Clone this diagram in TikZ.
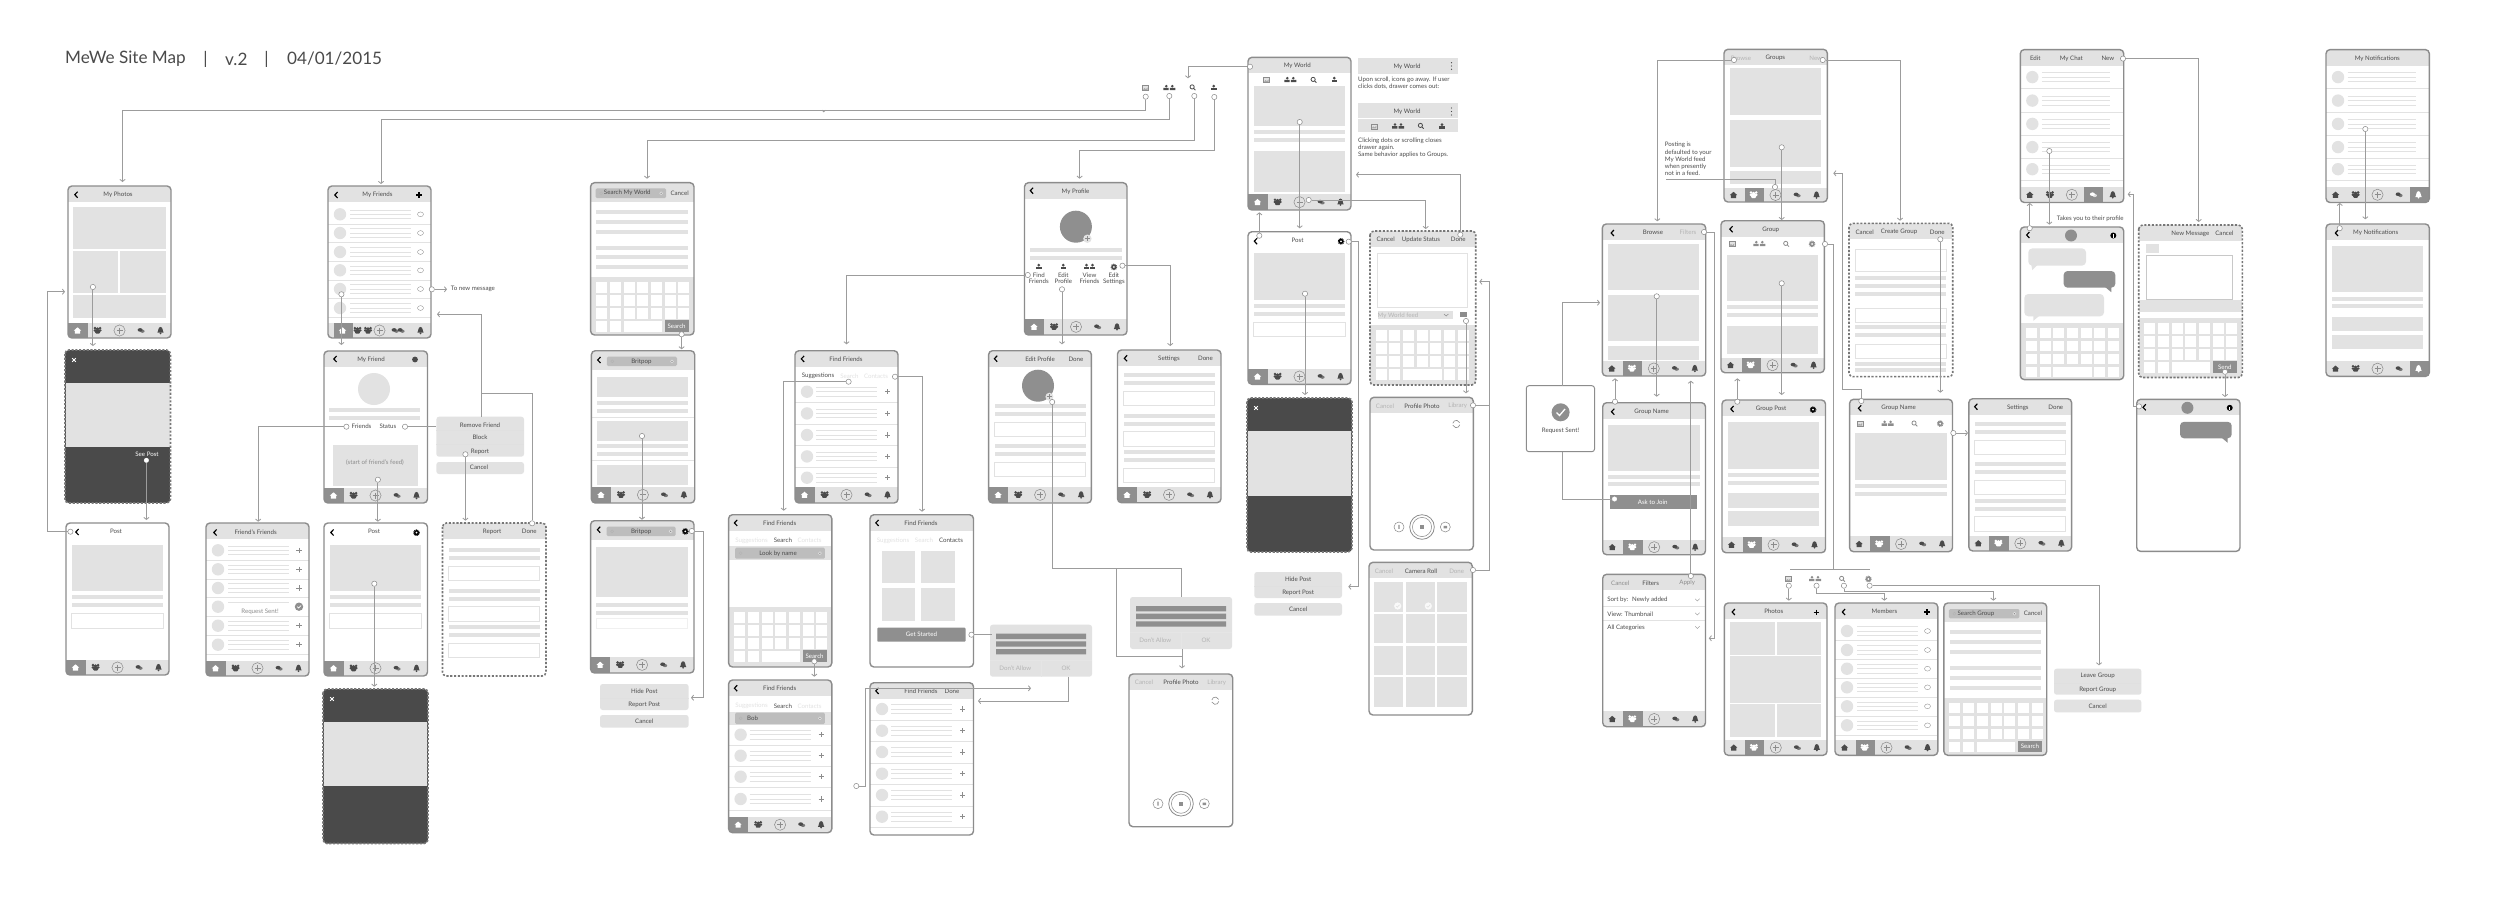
\documentclass[tikz,border=0pt]{standalone}
\usepackage{fontspec}
\setmainfont{Lato}
\usetikzlibrary{arrows.meta}
\definecolor{bgg}{HTML}{E2E2E2}
\definecolor{frm}{HTML}{8C8C8C}
\definecolor{midg}{HTML}{8F8F8F}
\definecolor{drk}{HTML}{4A4A4A}
\definecolor{tdk}{HTML}{4C4C4C}
\definecolor{tlt}{HTML}{B4B4B4}
\definecolor{srch}{HTML}{BDBDBD}
\definecolor{lnk}{HTML}{9C9C9C}
\newcount\txtcnt
\tikzset{
  txt/.style={inner sep=0pt,font=\fontsize{7}{8}\selectfont},
  ttlfont/.style={inner sep=0pt,text=drk,font=\fontsize{19.5}{22}\selectfont},
  conn/.style={draw=lnk,line width=.95pt,>={Straight Barb[length=2.4pt,width=6pt]}},
  hot/.style={circle,draw=frm,fill=white,line width=.6pt,inner sep=0pt,minimum size=.21cm},
  hotw/.style={circle,draw=white,fill=white,inner sep=0pt,minimum size=.18cm},
  brd/.style={draw=frm,line width=1.6pt},
  dbrd/.style={draw=frm!85!black,line width=1.8pt,dash pattern=on 2.4pt off 1.9pt},
  inp/.style={draw=bgg,line width=.8pt,fill=white},
}
\newcommand\tx[4][tdk]{\global\advance\txtcnt by 1\relax\node[txt,text=#1] (t\the\txtcnt) at (#2,#3) {#4};}
\newcommand\txl[4][tdk]{\global\advance\txtcnt by 1\relax\node[txt,text=#1,anchor=west] (t\the\txtcnt) at (#2,#3) {#4};}
\newcommand\scrn[6][brd]{\begin{scope}[shift={(#2,#3)}]\def\sW{#4}\def\sH{#5}%
  \fill[white,rounded corners=4.5pt] (0,0) rectangle (#4,#5);
  \begin{scope}\clip[rounded corners=4.5pt] (0,0) rectangle (#4,#5);#6\end{scope}
  \draw[#1,rounded corners=4.5pt] (0,0) rectangle (#4,#5);\end{scope}}
\newcommand\bx[4]{\fill[bgg] (#1,#2) rectangle (#3,#4);}
\newcommand\ib[4]{\draw[inp] (#1,#2) rectangle (#3,#4);}
\newcommand\lbar[3]{\fill[bgg] (#1,#3) rectangle (#2,#3+4);}
\newcommand\topbar{\bx{0}{0}{\sW}{16}}
\newcommand\ttl[2]{\tx{#1}{8.7}{#2}}
\newcommand\ttll[2]{\tx[tlt]{#1}{8.7}{#2}}
\newcommand\ttlm[2]{\tx[frm]{#1}{8.7}{#2}}
\newcommand\chev[2]{\draw[black,line width=1.3pt] (#1+1.6,#2-3) -- (#1-1.2,#2) -- (#1+1.6,#2+3);}
\newcommand\icgear[3][black]{\begin{scope}[shift={(#2,#3)}]\fill[#1] (0,0) circle (2.6);\draw[#1,line width=1pt,dash pattern=on .9pt off .9pt] (0,0) circle (2.9);\fill[white] (0,0) circle (1);\end{scope}}
\newcommand\bplus[2]{\draw[black,line width=1.3pt] (#1-2.8,#2) -- (#1+2.8,#2) (#1,#2-2.8) -- (#1,#2+2.8);}
\newcommand\gplus[2]{\draw[frm,line width=1pt] (#1-2.6,#2) -- (#1+2.6,#2) (#1,#2-2.6) -- (#1,#2+2.6);}
\newcommand\ichome[3]{\fill[#3] (#1-3.6,#2) -- (#1,#2-3.2) -- (#1+3.6,#2) -- (#1+2.6,#2) -- (#1+2.6,#2+3) -- (#1-2.6,#2+3) -- (#1-2.6,#2) -- cycle;}
\newcommand\icpeople[3]{\begin{scope}[shift={(#1,#2)}]\fill[#3] (-2.6,-2.4) circle (1.4) (2.6,-2.4) circle (1.4) (0,-1.6) circle (1.7);\fill[#3,rounded corners=1pt] (-4,-1.2) rectangle (4,1);\fill[#3,rounded corners=1pt] (-2.4,0) rectangle (2.4,3);\end{scope}}
\newcommand\icadd[2]{\begin{scope}[shift={(#1,#2)}]\draw[frm,line width=.6pt,fill=bgg] (0,0) circle (5.6);\draw[frm,line width=1pt] (-3,0) -- (3,0) (0,-3) -- (0,3);\end{scope}}
\newcommand\icchat[3]{\begin{scope}[shift={(#1,#2)}]\fill[#3] (-.9,-.6) ellipse (2.5 and 1.8);\fill[#3,opacity=.7] (1.4,.7) ellipse (2.2 and 1.6);\end{scope}}
\newcommand\icbell[3]{\begin{scope}[shift={(#1,#2)}]\fill[#3] (-3.2,2.2) .. controls (-2,1) and (-2.6,-3.6) .. (0,-3.6) .. controls (2.6,-3.6) and (2,1) .. (3.2,2.2) -- cycle;\fill[#3] (0,2.8) circle (1);\end{scope}}
\newcommand\icpic[3]{\begin{scope}[shift={(#1,#2)}]\draw[#3,line width=.35pt,fill=bgg] (-3,-2.4) rectangle (3,2.4);\fill[#3!75!white] (-2.4,2) -- (-.8,0) -- (.6,1.2) -- (2.4,-.6) -- (2.4,2) -- cycle;\end{scope}}
\newcommand\icpp[3]{\begin{scope}[shift={(#1,#2)}]\fill[#3] (-3,-1.8) circle (1.4) (3,-1.8) circle (1.4);\fill[#3] (-6,2.2) rectangle (-.6,-.2) (.6,2.2) rectangle (6,-.2);\end{scope}}
\newcommand\icfind[3]{\begin{scope}[shift={(#1,#2)}]\draw[#3,line width=.9pt] (-.6,-.6) circle (2.1) (.9,.9) -- (2.7,2.7);\end{scope}}
\newcommand\icone[3]{\begin{scope}[shift={(#1,#2)}]\fill[#3] (0,-1.9) circle (1.5);\fill[#3] (-2.8,2.4) rectangle (2.8,-.2);\end{scope}}
\newcommand\tabbar[2]{\fill[bgg] (0,#1) rectangle (\sW,\sH);
  \ifnum#2=1 \fill[midg] (0,#1) rectangle (19.5,\sH);\fi
  \ifnum#2=2 \fill[midg] (20.5,#1) rectangle (40,\sH);\fi
  \ifnum#2=4 \fill[midg] (64,#1) rectangle (83,\sH);\fi
  \ifnum#2=5 \fill[midg] (84,#1) rectangle (\sW,\sH);\fi
  \pgfmathsetmacro\ty{(#1+\sH)/2}
  \ifnum#2=1 \def\ci{white}\else\def\ci{drk}\fi
  \ichome{9.5}{\ty}{\ci}
  \ifnum#2=2 \def\ci{white}\else\def\ci{drk}\fi
  \icpeople{29.6}{\ty}{\ci}
  \icadd{51.5}{\ty}
  \ifnum#2=4 \def\ci{white}\else\def\ci{drk}\fi
  \icchat{73}{\ty}{\ci}
  \ifnum#2=5 \def\ci{white}\else\def\ci{drk}\fi
  \icbell{92.5}{\ty}{\ci}}
\newcommand\kbrd[2]{\fill[bgg] (0,#1) rectangle (\sW,\sH);
  \foreach \i in {0,...,6} \foreach \j in {0,1,2} {\fill[white] (5.5+\i*13.7,#1+5+\j*13) rectangle ++(11,10.7);}
  \foreach \i in {0,1} {\fill[white] (5.5+\i*13.7,#1+44) rectangle ++(11,10.7);}
  \fill[white] (33,#1+44) rectangle (71.5,#1+54.7);
  \ifx&#2&\foreach \i in {5,6} {\fill[white] (5.5+\i*13.7,#1+44) rectangle ++(11,10.7);}
  \else\fill[midg] (74,#1+43) rectangle (98,#1+54.7);\tx[white]{86}{#1+49}{#2}\fi}
\newcommand\rowb[5]{\fill[bgg] (12,#1) circle (6.2);
  \draw[bgg,line width=.85pt] (#2,#1-4.3) -- (#3,#1-4.3) (#2,#1) -- (#3,#1) (#2,#1+4.3) -- (#3,#1+4.3);
  \draw[bgg,line width=.7pt] (0,#1+#4) -- (\sW,#1+#4);#5}
\newcommand\frow[1]{\rowb{#1}{22}{82.5}{9.6}{\draw[frm,line width=.4pt] (92.5,#1) ellipse (3 and 2.4);}}
\newcommand\prow[1]{\rowb{#1}{22}{82.5}{9.6}{\gplus{93}{#1}}}
\newcommand\qrow[1]{\rowb{#1}{21}{82}{10.8}{\gplus{92.6}{#1}}}
\newcommand\crow[1]{\rowb{#1}{21.5}{90}{11.6}{}}
\newcommand\sbar[4]{\fill[srch,rounded corners=1.5pt] (#1,#3) rectangle (#2,#4);
  \draw[tlt,line width=.5pt] (#1+5.5,#3/2+#4/2) circle (1.5);
  \fill[white!60!srch] (#2-5,#3/2+#4/2) circle (1.8);\fill[midg] (#2-5,#3/2+#4/2) circle (.8);}
\newcommand\postbody{\bx{6}{21.5}{97}{68.3}\lbar{6}{97}{72.3}\lbar{6}{97}{80.3}\ib{5.6}{90.7}{97.4}{105}}
\newcommand\formbody[1]{\lbar{6}{97}{#1+23}\lbar{6}{97}{#1+31}\ib{6}{#1+41.3}{97}{#1+55.7}\lbar{6}{97}{#1+63.7}\lbar{6}{97}{#1+71.7}\ib{6}{#1+81.7}{97}{#1+96}\lbar{6}{97}{#1+100}\lbar{6}{97}{#1+108}\ib{6}{#1+118}{97}{#1+132.3}}
\newcommand\dark[3]{\fill[drk] (0,0) rectangle (\sW,\sH);\fill[bgg] (1,#1) rectangle (\sW-1,#2);
  \draw[white,line width=1.1pt] (7.2,8.2) -- (10.8,11.8) (7.2,11.8) -- (10.8,8.2);#3}
\newcommand\sheet[6]{\begin{scope}[shift={(#1,#2)}]\fill[bgg,rounded corners=3pt] (0,0) rectangle (#3,26);\draw[white!88!black,line width=.5pt] (0,14.5) -- (#3,14.5);
  \fill[bgg,rounded corners=3pt] (0,31) rectangle (#3,43.7);
  \tx{#3/2}{7}{#4}\tx{#3/2}{21}{#5}\tx{#3/2}{37.2}{#6}\end{scope}}
\newcommand\alertb[2]{\begin{scope}[shift={(#1,#2)}]\fill[bgg,rounded corners=3pt] (0,0) rectangle (102,52);
  \fill[midg] (6,9) rectangle (96,14.3) (6,16.7) rectangle (96,22) (6,24.3) rectangle (96,29.7);
  \draw[white!90!black,line width=.6pt] (0,35.7) -- (102,35.7) (51,35.7) -- (51,52);
  \tx[tlt]{25.3}{43.5}{Don't Allow}\tx[tlt]{76}{43.5}{OK}\end{scope}}
\newcommand\bubble[7]{\fill[#7,rounded corners=4.5pt] (#1,#2) rectangle (#3,#4);\fill[#7] (#5-3,#4-.5) -- (#5+3,#4-.5) -- (#5+#6,#4+4.5) -- cycle;}
\newcommand\chk[2]{\fill[white!80!bgg] (#1,#2) circle (3.6);\draw[bgg,line width=.8pt] (#1-1.6,#2) -- (#1-.4,#2+1.2) -- (#1+1.8,#2-1.2);}
\newcommand\camview{\topbar
  \draw[frm,line width=.7pt] (82.8,26) arc (190:340:3.6) (89.8,27.4) arc (10:160:3.6);
  \draw[frm,line width=.9pt] (52,129.7) circle (12.3);\draw[frm,line width=.6pt] (52,129.7) circle (9.6);
  \fill[midg] (49.8,128) rectangle (54.2,131.5);
  \draw[frm,line width=.6pt] (29,129.7) circle (5) (75.3,129.7) circle (5);
  \fill[midg] (73.5,128.5) rectangle (77,131) (28.4,127.5) rectangle (29.6,131.5);}
\begin{document}
\begin{tikzpicture}[x=0.04cm,y=-0.04cm]
\useasboundingbox (0,0) rectangle (2500,905);
\fill[white] (0,0) rectangle (2500,905);
\node[ttlfont,anchor=west] (maintitle) at (65,59) {MeWe Site Map};
\node[ttlfont] (sepa) at (205.6,59) {|};
\node[ttlfont,anchor=west] (version) at (225,59) {v.2};
\node[ttlfont] (sepb) at (266.5,59) {|};
\node[ttlfont,anchor=west] (datetext) at (287,59) {04/01/2015};

%%% left column
\scrn{68}{186}{103}{152}{\topbar\chev{8}{8.7}\ttl{50}{My Photos}\bx{4.5}{21}{98}{62.7}\bx{4.5}{65.3}{50}{106.7}\bx{52}{65.3}{98}{106.7}\bx{4.5}{108.7}{98}{132}\tabbar{137}{1}}
\scrn[dbrd]{65}{350}{105.5}{153}{\dark{32.7}{96.7}{\tx[white]{82}{104}{See Post}}}
\scrn{66}{523}{103}{152}{\postbody\chev{11}{9}\ttl{50}{Post}\tabbar{137}{1}}
\scrn{328}{186}{103}{152}{\topbar\chev{8}{9}\ttl{49.5}{My Friends}\bplus{91}{9}\frow{28.3}\frow{47}\frow{66}\frow{84.3}\frow{103}\frow{122}
 \fill[bgg] (0,137) rectangle (103,152);\fill[midg] (6,137) rectangle (24.5,152);\ichome{14.5}{144.5}{white}\icpeople{29.5}{144.5}{drk}\icpeople{40}{144.5}{drk}\icadd{51.5}{144.5}\icchat{67}{144.5}{drk}\icchat{73}{144.5}{drk}\icbell{92.5}{144.5}{drk}}
\scrn{324}{351}{103.5}{152}{\topbar\chev{11}{8}\ttl{47}{My Friend}\fill[drk] (91,8.5) circle (2.9);
 \fill[bgg] (50,38) circle (16);\lbar{5}{96}{57.3}\lbar{5}{96}{64.7}\txl{27.5}{75.3}{Friends}\txl{55.4}{75.3}{Status}
 \bx{8.6}{94}{94.3}{135}\tx[frm]{51}{111.7}{(start of friend's feed)}\tabbar{137}{1}}
\scrn{206}{523}{103}{153}{\topbar\chev{9}{9.5}\ttl{49.6}{Friend's Friends}\prow{27.3}\prow{46.3}\prow{65}
 \fill[bgg] (12,83.7) circle (6.2);\draw[bgg,line width=.85pt] (22,79.4) -- (82.5,79.4);\draw[bgg,line width=.7pt] (0,93.3) -- (103,93.3);\tx[frm]{54}{88.8}{Request Sent!}\fill[midg] (93,83.7) circle (4.2);\draw[white,line width=.8pt] (91.2,83.7) -- (92.6,85) -- (95,82.5);
 \prow{102.7}\prow{121.7}\tabbar{137.5}{1}}
\scrn{324}{523}{103.5}{153}{\postbody\chev{8}{9.5}\ttl{50}{Post}\icgear{92.5}{9.7}\tabbar{137.5}{1}}
\scrn[dbrd]{442.5}{523}{103.5}{153}{\topbar\ttl{49.6}{Report}\ttl{86.8}{Done}\formbody{2}}
\scrn[dbrd]{323}{689}{105}{154.5}{\dark{33.3}{96.7}{}}
\fill[bgg,rounded corners=3pt] (436.4,416.7) rectangle (524,456.7);\draw[white!88!black,line width=.5pt] (436.4,430) -- (524,430) (436.4,444) -- (524,444);
\fill[bgg,rounded corners=3pt] (436.4,462) rectangle (524,474);
\tx{480}{425.3}{Remove Friend}\tx{480}{437.7}{Block}\tx{480}{451.7}{Report}\tx{479}{467.7}{Cancel}

%%% search column
\scrn{590.6}{182.7}{103.4}{152.3}{\bx{0}{0}{103.4}{19}\sbar{5}{75.5}{5.7}{15.3}\tx{36.7}{10.5}{Search My World}\tx{89}{10.5}{Cancel}
 \lbar{5.7}{97.5}{27.3}\lbar{5.7}{97.5}{37.3}\lbar{5.7}{97.5}{47.3}\lbar{5.7}{97.5}{63}\lbar{5.7}{97.5}{72.7}\lbar{5.7}{97.5}{82.7}\kbrd{94.7}{Search}}
\scrn{591.4}{350.7}{103.3}{152.3}{\bx{0}{0}{103.3}{19.5}\chev{7.5}{9.3}\sbar{15.5}{85.6}{6}{15.3}\tx{50}{10.7}{Britpop}
 \bx{5.7}{26.3}{97}{46}\lbar{5.7}{97}{50.3}\lbar{5.7}{97}{58.3}\draw[bgg,line width=.7pt] (0,66.7) -- (103.3,66.7);\bx{5.7}{70.7}{97}{90.3}\lbar{5.7}{97}{93.7}\lbar{5.7}{97}{101.3}\draw[bgg,line width=.7pt] (0,110) -- (103.3,110);\bx{5.7}{114}{97}{134}\tabbar{136}{1}}
\scrn{590.6}{520.7}{103.4}{152.3}{\bx{0}{0}{103.4}{19.5}\chev{8}{9}\sbar{16}{85}{6}{15.3}\tx{50.5}{10.7}{Britpop}\icgear{94.7}{10.7}
 \bx{5.7}{26}{97}{76}\lbar{5.7}{97}{82.7}\lbar{5.7}{97}{90.3}\draw[bgg!50!white,line width=.6pt] (6,97.7) rectangle (97,107.7);\tabbar{136}{1}}
\sheet{600}{684}{88.6}{Hide Post}{Report Post}{Cancel}

%%% find friends
\scrn{795}{350.7}{103}{152.3}{\topbar\chev{7.5}{8.2}\ttl{51}{Find Friends}\tx{23}{25.3}{Suggestions}\tx[bgg]{54.4}{25.3}{Search}\tx[bgg]{81}{25.3}{Contacts}\qrow{41}\qrow{62.7}\qrow{84.3}\qrow{105.7}\qrow{127}\tabbar{136}{1}}
\scrn{728.6}{514.7}{103.2}{152.3}{\topbar\chev{7}{8.2}\ttl{51}{Find Friends}\tx[bgg]{23}{26}{Suggestions}\tx{54.3}{26}{Search}\tx[bgg]{81}{26}{Contacts}
 \fill[bgg] (0,31.5) rectangle (103.2,45);\sbar{6.5}{96.3}{33}{44}\tx{49.4}{38.8}{Look by name}\kbrd{92.7}{Search}}
\scrn{870}{514.7}{103.5}{152.3}{\topbar\chev{7}{8.2}\ttl{51}{Find Friends}\tx[bgg]{23}{26}{Suggestions}\tx[bgg]{54}{26}{Search}\tx{81}{26}{Contacts}
 \bx{11.8}{36}{45.3}{68.7}\bx{51}{36}{84.5}{68.7}\bx{11.8}{73.3}{45.3}{106}\bx{51}{73.3}{84.5}{106}\fill[midg,rounded corners=1pt] (7.3,113) rectangle (95.5,127);\tx[white]{51.5}{120}{Get Started}}
\scrn{728.6}{680}{103.2}{152.7}{\topbar\chev{7}{8.2}\ttl{51}{Find Friends}\tx[bgg]{23}{26}{Suggestions}\tx{54.3}{26}{Search}\tx[bgg]{81}{26}{Contacts}
 \fill[bgg] (0,31.5) rectangle (103.2,45);\sbar{6.5}{96.3}{32.7}{44}\tx{24}{38.5}{Bob}\qrow{54.7}\qrow{75.7}\qrow{96.7}\qrow{119}\tabbar{136.7}{1}}
\scrn{870}{682.7}{103.5}{152.3}{\topbar\chev{7}{8.2}\ttl{51}{Find Friends}\ttl{82}{Done}\qrow{26.3}\qrow{48}\qrow{69.3}\qrow{91}\qrow{112.3}\qrow{134}}
\alertb{990}{624.7}

%%% profile
\scrn{1024.5}{182.7}{102.5}{152.3}{\topbar\chev{7}{8}\ttl{51}{My Profile}\fill[midg] (51.4,44) circle (16);\fill[bgg] (62.9,56) circle (4.2);\gplus{62.9}{56}
 \lbar{5.5}{97}{65}\lbar{5.5}{97}{73}
 \icone{14.3}{84.3}{drk}\icone{38.8}{84.3}{drk}\icone{62}{84.3}{drk}\icone{68}{84.3}{drk}\icgear[drk]{89.4}{84.3}
 \tx{14.3}{92.3}{Find}\tx{14.3}{98.9}{Friends}\tx{38.8}{92.3}{Edit}\tx{38.8}{98.9}{Profile}\tx{65}{92.3}{View}\tx{65}{98.9}{Friends}\tx{89.4}{92.3}{Edit}\tx{89.4}{98.9}{Settings}\tabbar{136}{1}}
\scrn{988.6}{350.7}{102.8}{152.3}{\topbar\chev{7}{8}\ttl{51.4}{Edit Profile}\ttl{87.3}{Done}\fill[midg] (49.4,35) circle (16);\fill[bgg] (60.8,46) circle (4);\gplus{60.8}{46}
 \lbar{6}{97}{53.3}\lbar{6}{97}{61}\ib{6}{71.3}{97}{86}\lbar{6}{97}{93.3}\lbar{6}{97}{101.3}\ib{6}{111.7}{97}{126}\tabbar{136}{1}}
\scrn{1117.5}{350}{103.5}{152.7}{\topbar\chev{8}{8.3}\ttl{51.5}{Settings}\ttl{88}{Done}\formbody{0}\tabbar{137}{1}}
\alertb{1130}{597}
\scrn{1129}{674}{103.7}{152.7}{\camview\ttll{15}{Cancel}\ttl{52}{Profile Photo}\ttll{87.7}{Library}}

%%% my world
\scrn{1248}{57.3}{103}{152.7}{\topbar\ttl{49.3}{My World}\icpic{18.3}{22.7}{frm}\icpp{42.3}{22.7}{drk}\icfind{65.7}{22.7}{drk}\icone{86.3}{22.7}{drk}
 \bx{5.7}{28.7}{97}{68.7}\lbar{5.7}{97}{72.7}\lbar{5.7}{97}{80.3}\bx{5.7}{93.3}{97}{134.7}\tabbar{137}{1}}
\scrn{1248}{231.7}{103}{152.6}{\postbody\chev{7.5}{9.5}\ttl{49.5}{Post}\icgear{93}{9.7}\tabbar{137}{1}}
\scrn[dbrd]{1247}{398}{105}{154}{\dark{32.7}{97.7}{}}
\sheet{1254.3}{572}{87.7}{Hide Post}{Report Post}{Cancel}
\scrn[dbrd]{1370}{231}{105.7}{154}{\topbar\ttl{15.7}{Cancel}\ttl{51}{Update Status}\ttl{88.3}{Done}\ib{7.3}{22.3}{97.7}{76.7}
 \fill[bgg] (8,80) rectangle (83.3,88.3);\tx[tlt]{28}{84.3}{My World feed}\draw[frm,line width=.6pt] (74,83) -- (76.2,85) -- (78.4,83);
 \fill[frm] (90,80.5) rectangle (97,86);\kbrd{94}{}}
\scrn{1370}{397.3}{103.3}{152.7}{\camview\ttll{15}{Cancel}\ttl{52}{Profile Photo}\ttll{87.7}{Library}}
\scrn{1369}{562.3}{103.3}{152.7}{\topbar\ttll{15}{Cancel}\ttl{52}{Camera Roll}\ttll{87.7}{Done}
 \foreach \cx in {5,36.7,68.3} \foreach \cy in {20,51.7,83.3,115} {\fill[bgg] (\cx,\cy) rectangle (\cx+29.3,\cy+29.3);}
 \chk{28.7}{43.7}\chk{59.3}{43.7}}
\fill[bgg] (1358,58) rectangle (1457.7,74);\tx{1407}{66.5}{My World}\fill[drk] (1451.5,62.7) circle (.7) (1451.5,66) circle (.7) (1451.5,69.3) circle (.7);
\txl{1358}{79.7}{Upon scroll, icons go away. If user}\txl{1358}{87}{clicks dots, drawer comes out:}
\fill[bgg] (1358,103) rectangle (1457.7,132);\draw[white,line width=.5pt] (1358,118.3) -- (1457.7,118.3);\tx{1407}{111.7}{My World}\fill[drk] (1451.5,108) circle (.7) (1451.5,111.5) circle (.7) (1451.5,115) circle (.7);
\icpic{1374}{126.3}{frm}\icpp{1398}{126.3}{drk}\icfind{1421}{126}{drk}\icone{1442}{126.5}{drk}
\txl{1358}{140.7}{Clicking dots or scrolling closes}\txl{1358}{148}{drawer again.}\txl{1358}{155}{Same behavior applies to Groups.}

%%% top icons
\icpic{1145.3}{88}{frm}\icpp{1169.3}{88}{drk}\icfind{1192.7}{87.5}{drk}\icone{1213.7}{88}{drk}

%%% groups
\scrn{1724}{49.3}{103.3}{152.7}{\topbar\ttll{17}{Browse}\ttl{51.3}{Groups}\ttll{91.7}{New}\bx{5.7}{18.7}{97}{65.3}\bx{5.7}{70.7}{97}{117.3}\bx{5.7}{121.7}{97}{134.7}\tabbar{138.7}{2}}
\scrn{1602.3}{224}{103.4}{152}{\topbar\chev{10}{9}\ttl{50.7}{Browse}\ttll{85.7}{Filters}\bx{5.7}{19.7}{97}{66.3}\bx{5.7}{70.7}{97}{117.3}\bx{5.7}{122}{97}{136.3}\tabbar{137}{2}}
\scrn{1721}{220.7}{103.3}{152}{\topbar\chev{10}{8.5}\ttl{49.7}{Group}\icpic{10.7}{23.3}{frm}\icpp{38.3}{23.3}{frm}\icfind{65.3}{23.3}{frm}\icgear[frm]{91}{23.3}
 \bx{6}{34}{97.3}{80.3}\lbar{6}{97.3}{84.7}\lbar{6}{97.3}{92.7}\bx{6}{105}{97.3}{133}\tabbar{137}{2}}
\scrn[dbrd]{1849}{223.3}{103.7}{153.4}{\topbar\ttl{15.7}{Cancel}\ttl{50}{Create Group}\ttl{88.3}{Done}\ib{6}{26}{97}{48}\lbar{6}{97}{52.7}\lbar{6}{97}{60.7}\lbar{6}{97}{68.7}\ib{6}{85}{97}{99.3}\lbar{6}{97}{101.7}\lbar{6}{97}{110}\ib{6}{121}{97}{135.3}\lbar{6}{97}{138.3}\lbar{6}{97}{145}}
\fill[white] (1526.3,385.7) rectangle (1594.5,451.7);\draw[draw=frm,line width=1.1pt,rounded corners=3pt] (1526.3,385.7) rectangle (1594.5,451.7);
\fill[midg] (1560.6,412.3) circle (9);\draw[white,line width=1.5pt] (1556.5,412.5) -- (1559.5,415.5) -- (1565,409);\tx{1560.5}{430.7}{Request Sent!}
\scrn{1602.7}{402.7}{102.8}{152}{\topbar\chev{10}{9}\ttl{49}{Group Name}\bx{5.5}{22}{97}{68.7}\lbar{5.5}{97}{72.3}\lbar{5.5}{97}{79}\fill[midg] (7,92.3) rectangle (94.7,106.3);\tx[white]{50}{100}{Ask to Join}\tabbar{137}{2}}
\scrn{1722}{400}{103.5}{152.7}{\topbar\chev{10}{9}\ttl{49}{Group Post}\icgear{91}{9.7}\bx{5.5}{22.3}{97}{69}\lbar{5.5}{97}{73}\lbar{5.5}{97}{81}\bx{5.5}{93.3}{97}{108}\bx{5.5}{111.3}{97}{125.7}\tabbar{137}{2}}
\scrn{1849.6}{399.3}{102.9}{152.4}{\topbar\chev{10}{9}\ttl{49}{Group Name}\icpic{10.2}{24.3}{frm}\icpp{38}{24.3}{frm}\icfind{65}{24.3}{frm}\icgear[frm]{90.6}{24.3}\bx{5.5}{34}{97}{80.7}\lbar{5.5}{97}{84.7}\lbar{5.5}{97}{92.7}\tabbar{137}{2}}
\scrn{1968.8}{398.7}{102.8}{152.3}{\topbar\chev{7}{8}\ttl{49}{Settings}\ttl{87}{Done}\formbody{0}\tabbar{137}{2}}
\scrn{1602.7}{574.3}{102.8}{152.4}{\topbar\ttlm{17.6}{Cancel}\ttl{48}{Filters}\ttlm{84.5}{Apply}\txl{4.5}{25.6}{Sort by:\hspace{2pt} Newly added}\txl{4.5}{40}{View: Thumbnail}\txl{4.5}{53}{All Categories}
 \draw[bgg,line width=.7pt] (0,32.3) -- (102.8,32.3) (0,46.3) -- (102.8,46.3);
 \draw[frm,line width=.5pt] (92.5,24.5) -- (94.7,26.7) -- (96.9,24.5) (92.5,38.5) -- (94.7,40.7) -- (96.9,38.5) (92.5,52) -- (94.7,54.2) -- (96.9,52);\tabbar{137}{2}}
\scrn{1724.3}{603}{102.7}{152.3}{\topbar\chev{9}{9}\ttl{49.4}{Photos}\bplus{92}{9.3}\bx{6}{19.3}{50.6}{51.7}\bx{52.2}{19.3}{96.7}{51.7}\bx{6}{53}{96.7}{99.7}\bx{6}{101.3}{50.6}{133.7}\bx{52.2}{101.3}{96.7}{133.7}\tabbar{137}{2}}
\scrn{1835}{603}{102.8}{152.3}{\topbar\chev{8.5}{9}\ttl{49.4}{Members}\bplus{92}{9}\frow{28}\frow{47}\frow{65.7}\frow{84.3}\frow{103.3}\frow{122.3}\tabbar{137}{2}}
\scrn{1943.9}{603}{102.8}{152.3}{\bx{0}{0}{102.8}{19}\sbar{5}{75.5}{6}{15.3}\tx{32}{10.7}{Search Group}\tx{89}{10.7}{Cancel}
 \lbar{5.7}{97.5}{27.3}\lbar{5.7}{97.5}{37.3}\lbar{5.7}{97.5}{47.3}\lbar{5.7}{97.5}{63}\lbar{5.7}{97.5}{72.7}\lbar{5.7}{97.5}{82.7}\kbrd{94.7}{Search}}
\sheet{2054}{668.7}{87.4}{Leave Group}{Report Group}{Cancel}

%%% chat
\scrn{2020.3}{49.6}{103.4}{152.9}{\topbar\ttl{15}{Edit}\ttl{51}{My Chat}\ttl{87.5}{New}\crow{27.5}\crow{51}\crow{74.3}\crow{97.5}\crow{119.6}\tabbar{137.5}{4}}
\scrn{2020.3}{227}{103.4}{152.6}{\fill[bgg] (0,0) rectangle (103.4,16);\chev{7.5}{8}\fill[midg] (50.7,8.5) circle (6);\fill[black] (93,8.5) circle (3);\fill[white] (92.6,7.2) rectangle (93.4,10.5);
 \bubble{8}{21.4}{65.7}{38.6}{14}{-2}{bgg}\bubble{43.3}{44}{95}{60.7}{88}{3}{midg}\bubble{4}{67}{83.7}{89.3}{16}{-3}{bgg}\kbrd{95.7}{}}
\scrn[dbrd]{2138.7}{225}{103.6}{152.5}{\topbar\ttl{51.7}{New Message}\ttl{85.7}{Cancel}\bx{7.7}{19.3}{20.3}{28}\draw[bgg!70!frm,line width=.6pt] (7.7,30) rectangle (94,74.5);\bx{0}{74.5}{103.6}{87}\kbrd{92.9}{Send}}
\scrn{2136.7}{399.3}{103.3}{152.1}{\fill[bgg] (0,0) rectangle (103.3,16);\chev{7.5}{8}\fill[midg] (50.7,8.5) circle (6);\fill[black] (93,8.5) circle (3);\fill[white] (92.6,7.2) rectangle (93.4,10.5);\bubble{43.3}{22.5}{95}{39}{88}{3}{midg}}
\scrn{2326}{49.6}{103.3}{152.9}{\topbar\ttl{51.3}{My Notifications}\crow{27.5}\crow{51}\crow{74.3}\crow{97.5}\crow{119.6}\tabbar{137.5}{5}}
\scrn{2326}{224}{103.3}{152.4}{\topbar\chev{10.5}{9}\ttl{49.7}{My Notifications}\bx{5.7}{22}{97}{68.4}\lbar{5.7}{97}{72.5}\lbar{5.7}{97}{80}\bx{5.7}{93}{97}{107.3}\bx{5.7}{110.7}{97}{125}\tabbar{137}{5}}
\txl{2056.7}{219}{Takes you to their profile}
\txl{1664.7}{145}{Posting is}\txl{1664.7}{152.3}{defaulted to your}\txl{1664.7}{159.3}{My World feed}\txl{1664.7}{166.7}{when presently}\txl{1664.7}{173.7}{not in a feed.}
\txl{450.7}{289.3}{To new message}
\icpic{1788}{579}{frm}\icpp{1815}{579}{frm}\icfind{1842.2}{579}{frm}\icgear[frm]{1868.4}{579}

%%% hotspots and connection ends
\newcommand\hs[3]{\node[hot] (#1) at (#2,#3) {};}
\newcommand\tg[3]{\coordinate (#1) at (#2,#3);}
\newcommand\lk[3]{\draw[conn,->] (#1) #3 -- (#2);}
\newcommand\plk[3]{\draw[conn] (#1) #3 -- (#2);}

\hs{iA}{1145.7}{96.7}\tg{eA}{122.5}{182}\lk{iA}{eA}{-- (1145.7,110.7) -- (122.5,110.7)}
\draw[conn] (822,110.2) -- (823.7,111.8) -- (825.4,110.2);
\hs{iB}{1169.3}{96}\tg{eB}{381}{184}\lk{iB}{eB}{-- (1169.3,119.5) -- (381,119.5)}
\hs{iC}{1194.3}{96}\tg{eC}{647}{178.7}\lk{iC}{eC}{-- (1194.3,140) -- (647,140)}
\hs{iD}{1214.3}{97}\tg{eD}{1079.6}{178.7}\lk{iD}{eD}{-- (1214.3,150.7) -- (1079.6,150.7)}
\hs{iE}{1250}{66.7}\tg{eE}{1188}{78.3}\lk{iE}{eE}{-- (1188,66.7)}

\hs{a1}{92.9}{287}\tg{a1e}{92.9}{346}\lk{a1}{a1e}{}
\node[hotw] (a2) at (146.4,460.3) {};\tg{a2e}{146.4}{520}\lk{a2}{a2e}{}
\hs{a3}{70.4}{531.7}\tg{a3e}{65}{291.7}\lk{a3}{a3e}{-- (47.5,531.7) -- (47.5,291.7)}
\hs{a4}{341.4}{294.3}\tg{a4e}{341.4}{345}\lk{a4}{a4e}{}
\hs{a5}{431.8}{289.3}\tg{a5e}{447}{289.3}\lk{a5}{a5e}{}
\hs{a6}{405}{426.7}\tg{a6e}{436.4}{426.7}\plk{a6}{a6e}{}
\hs{a7}{346.4}{426.7}\tg{a7e}{258.2}{521.7}\lk{a7}{a7e}{-- (258.2,426.7)}
\hs{a8}{465.4}{454.3}\tg{a8e}{465.4}{520.7}\lk{a8}{a8e}{}
\hs{a9}{532.1}{523.3}\tg{a9e}{481.8}{393.3}\plk{a9}{a9e}{-- (532.1,393.3)}
\tg{a10}{481.8}{416.7}\tg{a10e}{437}{314.3}\lk{a10}{a10e}{-- (481.8,314.3)}
\hs{a11}{377.9}{479.7}\tg{a11e}{377.9}{521.7}\lk{a11}{a11e}{}
\hs{a12}{374.3}{583.7}\tg{a12e}{374.3}{686.7}\lk{a12}{a12e}{}

\hs{b1}{681.6}{334.3}\tg{b1e}{681.6}{349.3}\lk{b1}{b1e}{}
\hs{b2}{642}{436}\tg{b2e}{642}{519.7}\lk{b2}{b2e}{}
\hs{b3}{691.8}{531}\tg{b3e}{691}{697.7}\lk{b3}{b3e}{-- (703.3,531) -- (703.3,697.7)}
\hs{c1}{1122.4}{265.7}\tg{c1e}{1170.2}{346}\lk{c1}{c1e}{-- (1170.2,265.7)}
\hs{c2}{1062}{289.3}\tg{c2e}{1062}{344.3}\lk{c2}{c2e}{}
\hs{c3}{1027.8}{275}\tg{c3e}{846.5}{344.3}\lk{c3}{c3e}{-- (846.5,275)}
\hs{c4}{1052.2}{402}\tg{c4e}{1181.2}{596.7}\plk{c4}{c4e}{-- (1052.2,568.3) -- (1181.2,568.3)}
\tg{c5}{1116.2}{568.3}\tg{c5e}{1182}{656}\plk{c5}{c5e}{-- (1116.2,656)}
\tg{c6}{1182}{649}\tg{c6e}{1182}{668.3}\lk{c6}{c6e}{}
\hs{d1}{848.6}{381.7}\tg{d1e}{783.7}{510.7}\lk{d1}{d1e}{-- (783.7,381.7)}
\hs{d2}{895}{376.7}\tg{d2e}{922}{511.7}\lk{d2}{d2e}{-- (922,376.7)}
\hs{d3}{814.3}{661.3}\tg{d3e}{814.3}{676.7}\lk{d3}{d3e}{}
\hs{d4}{971.4}{634.7}\tg{d4e}{992}{634.7}\plk{d4}{d4e}{}
\tg{d5}{1068.6}{676.7}\tg{d5e}{978}{701}\lk{d5}{d5e}{-- (1068.6,701)}
\hs{d6}{856.3}{786}\tg{d6e}{1031}{688.3}\lk{d6}{d6e}{-- (865,786) -- (865,688.3)}

\hs{f1}{1299.7}{122}\tg{f1e}{1299.7}{228.3}\lk{f1}{f1e}{}
\hs{f2}{1308.7}{200}\tg{f2e}{1425.7}{229}\lk{f2}{f2e}{-- (1425.7,200)}
\hs{f3}{1259.3}{235.7}\tg{f3e}{1259.3}{212.3}\lk{f3}{f3e}{}
\hs{f4}{1460.3}{234.7}\tg{f4e}{1356}{174.7}\lk{f4}{f4e}{-- (1460.3,174.7)}
\hs{f5}{1348.7}{241.7}\tg{f5e}{1348.3}{586.7}\lk{f5}{f5e}{-- (1358.3,241.7) -- (1358.3,586.7)}
\hs{f6}{1305}{293.7}\tg{f6e}{1305}{395}\lk{f6}{f6e}{}
\hs{f7}{1466}{321}\tg{f7e}{1466}{393.3}\lk{f7}{f7e}{}
\hs{f8}{1473}{405.3}\tg{f8e}{1479.3}{281.7}\lk{f8}{f8e}{-- (1489.3,405.3) -- (1489.3,281.7)}
\hs{f9}{1473}{570}\tg{f9e}{1489.3}{405.3}\plk{f9}{f9e}{-- (1489.3,570)}

\hs{g1}{1734}{60}\tg{g1e}{1657.3}{221.3}\lk{g1}{g1e}{-- (1657.3,60)}
\hs{g2}{1822.7}{60}\tg{g2e}{1900}{220.7}\lk{g2}{g2e}{-- (1900,60)}
\hs{g3}{1781.7}{147.3}\tg{g3e}{1781.7}{220}\lk{g3}{g3e}{}
\hs{g4}{1781.7}{283.3}\tg{g4e}{1781.7}{395}\lk{g4}{g4e}{}
\hs{g5}{1775}{187}\tg{g5e}{1666}{179.7}\plk{g5}{g5e}{-- (1775,179.7)}
\hs{g6}{1656.7}{296.3}\tg{g6e}{1656.7}{396.7}\lk{g6}{g6e}{}
\hs{g7}{1704}{232}\tg{g7e}{1708.8}{638.3}\lk{g7}{g7e}{-- (1714,232) -- (1714,638.3)}
\hs{g8}{1615}{401.7}\tg{g8e}{1615}{378.3}\lk{g8}{g8e}{}
\hs{g9}{1737.3}{401.7}\tg{g9e}{1737.3}{378.3}\lk{g9}{g9e}{}
\hs{g10}{1690.8}{576}\tg{g10e}{1690.8}{380.7}\lk{g10}{g10e}{}
\node[hotw] (g11) at (1614.5,499) {};\tg{g11e}{1562.2}{451.7}\plk{g11}{g11e}{-- (1562.2,499)}
\tg{g12}{1562.3}{385.7}\tg{g12e}{1600}{302.7}\lk{g12}{g12e}{-- (1562.3,302.7)}
\hs{g13}{1825}{244}\tg{g13e}{1833.3}{569.3}\plk{g13}{g13e}{-- (1833.3,244)}
\tg{g14}{1790.4}{569.3}\tg{g14e}{1869.6}{569.3}\plk{g14}{g14e}{}
\hs{g15}{1788.8}{585.7}\tg{g15e}{1788.8}{600.7}\lk{g15}{g15e}{}
\hs{g16}{1816.5}{585.7}\tg{g16e}{1884.3}{600.7}\lk{g16}{g16e}{-- (1816.5,593.3) -- (1884.3,593.3)}
\hs{g17}{1843.9}{585.7}\tg{g17e}{1993.3}{600.7}\lk{g17}{g17e}{-- (1843.9,591) -- (1993.3,591)}
\hs{g18}{1869.6}{585.7}\tg{g18e}{2099}{665.3}\lk{g18}{g18e}{-- (2099,585.7)}
\hs{g19}{1940.3}{239.3}\tg{g19e}{1940.3}{392.7}\lk{g19}{g19e}{}
\hs{g20}{1861.3}{401}\tg{g20e}{1833.3}{173.3}\lk{g20}{g20e}{-- (1861.3,389) -- (1842.3,389) -- (1842.3,173.3)}
\hs{g21}{1953.3}{433}\tg{g21e}{1968}{433}\lk{g21}{g21e}{}

\hs{h1}{2029.7}{228.2}\tg{h1e}{2029.7}{203}\lk{h1}{h1e}{}
\hs{h2}{2049.3}{151}\tg{h2e}{2049.3}{224.6}\lk{h2}{h2e}{}
\hs{h3}{2123}{58.6}\tg{h3e}{2198.7}{222}\lk{h3}{h3e}{-- (2198.7,58.6)}
\hs{h4}{2225}{371.8}\tg{h4e}{2225}{397}\lk{h4}{h4e}{}
\hs{h5}{2139}{406.4}\tg{h5e}{2127.7}{194.3}\lk{h5}{h5e}{-- (2133.3,406.4) -- (2133.3,194.3)}
\hs{h6}{2365.3}{129}\tg{h6e}{2365.3}{219.3}\lk{h6}{h6e}{}
\hs{h7}{2339.7}{228.2}\tg{h7e}{2339.7}{202.9}\lk{h7}{h7e}{}
\end{tikzpicture}
\end{document}
